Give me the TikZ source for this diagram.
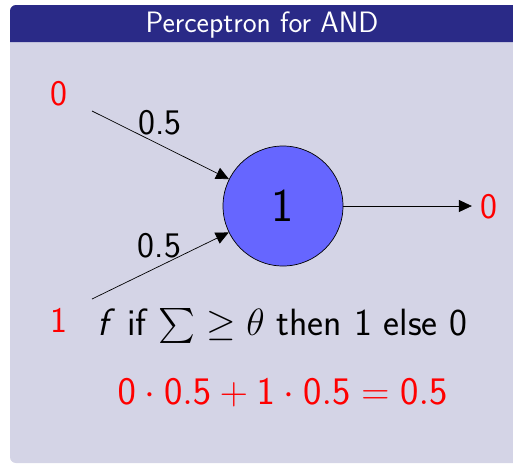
\RequirePackage{fix-cm}
\documentclass[tikz,border=0pt]{standalone}
\DeclareFontShape{OMX}{cmex}{m}{n}{<-> s*[0.92] cmex10}{}
\usetikzlibrary{arrows.meta}
\definecolor{titlebg}{RGB}{42,42,135}
\definecolor{bodybg}{RGB}{212,212,230}
\definecolor{nodefill}{RGB}{102,102,255}
\tikzset{
  lbl/.style={font=\sffamily\fontsize{36}{40}\selectfont, inner sep=0pt, anchor=base},
  inval/.style={lbl, text=red},
  neuron/.style={circle, draw=black, line width=0.7pt, fill=nodefill, minimum size=120pt, inner sep=0pt, font=\sffamily\fontsize{47}{50}\selectfont},
  conn/.style={line width=0.7pt, -{Triangle[length=13pt,width=12pt]}},
}
\begin{document}
\begin{tikzpicture}[x=1pt,y=-1pt]
\useasboundingbox (0,0) rectangle (513,464);
\fill[bodybg, rounded corners=6pt] (10,5) rectangle (540,463);
\fill[titlebg] (10,42) [rounded corners=6pt] -- (10,5) -- (540,5) [sharp corners] -- (540,42) -- cycle;
\node[font=\sffamily\fontsize{29.5}{32}\selectfont, text=white, anchor=base, inner sep=0pt] (title) at (262,32) {Perceptron for AND};
\node[neuron] (n) at (283,206) {1};
\node[inval] (in0) at (58.5,105) {0};
\node[inval] (in1) at (58.7,332) {1};
\node[inval] (out) at (488.5,218) {0};
\coordinate (s0) at (92,111);
\coordinate (s1) at (92,299);
\draw[conn] (s0) -- (n);
\draw[conn] (s1) -- (n);
\draw[conn, shorten >=8pt] (n) -- (n -| out.west);
\node[lbl] (w0) at (160,134) {0.5};
\node[lbl] (w1) at (159.5,257) {0.5};
\node[font=\sffamily\fontsize{38}{42}\selectfont, anchor=base, inner sep=0pt] (rule) at (282.5,335) {{\itshape f\/} if $\sum \geq \theta$ then 1 else 0};
\node[font=\sffamily\fontsize{39}{42}\selectfont, text=red, anchor=base, inner sep=0pt] (calc) at (282.5,404) {$\mathsf{0}\cdot\mathsf{0.5}+\mathsf{1}\cdot\mathsf{0.5}=\mathsf{0.5}$};
\end{tikzpicture}
\end{document}
